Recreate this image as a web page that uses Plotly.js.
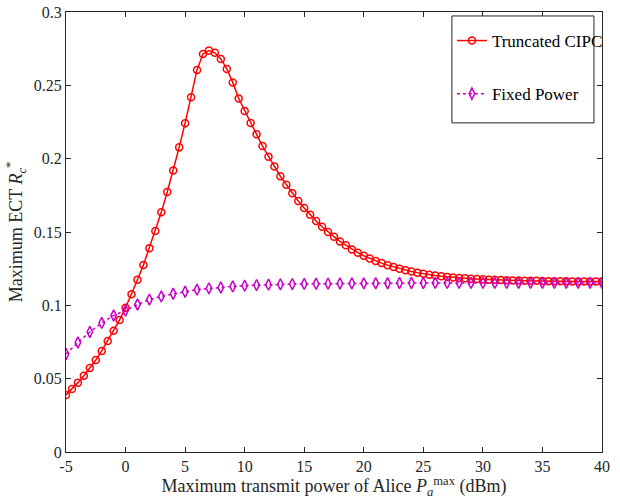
<!DOCTYPE html>
<html>
<head>
<meta charset="utf-8">
<script src="https://cdn.plot.ly/plotly-3.0.1.min.js"></script>
<style>html,body{margin:0;padding:0;background:#fff;}#chart{width:620px;height:499px;}</style>
</head>
<body>
<div id="chart"></div>
<script>
// Truncated CIPC: power grid every 0.5 dBm
const xCIPC = [-5,-4.5,-4,-3.5,-3,-2.5,-2,-1.5,-1,-0.5,0,0.5,1,1.5,2,2.5,3,3.5,4,4.5,5,5.5,6,6.5,7,7.5,8,8.5,9,9.5,10,10.5,11,11.5,12,12.5,13,13.5,14,14.5,15,15.5,16,16.5,17,17.5,18,18.5,19,19.5,20,20.5,21,21.5,22,22.5,23,23.5,24,24.5,25,25.5,26,26.5,27,27.5,28,28.5,29,29.5,30,30.5,31,31.5,32,32.5,33,33.5,34,34.5,35,35.5,36,36.5,37,37.5,38,38.5,39,39.5,40];
const yCIPC = [0.0389,0.0430,0.0473,0.0520,0.0573,0.0627,0.0689,0.0757,0.0827,0.0900,0.0984,0.1075,0.1175,0.1275,0.1390,0.1507,0.1634,0.1773,0.1920,0.2077,0.2242,0.2418,0.2605,0.2714,0.2737,0.2722,0.2680,0.2612,0.2520,0.2410,0.2325,0.2243,0.2166,0.2086,0.2013,0.1947,0.1880,0.1822,0.1765,0.1711,0.1664,0.1618,0.1575,0.1536,0.1500,0.1468,0.1436,0.1409,0.1381,0.1359,0.1338,0.1320,0.1302,0.1288,0.1274,0.1262,0.1250,0.1240,0.1231,0.1223,0.1215,0.1209,0.1203,0.1198,0.1194,0.1190,0.1187,0.1184,0.1181,0.1179,0.1177,0.1175,0.1174,0.1172,0.1171,0.1170,0.1169,0.1168,0.1167,0.1167,0.1166,0.1165,0.1165,0.1164,0.1164,0.1163,0.1163,0.1163,0.1162,0.1162,0.1162];
// Fixed Power: power grid every 1 dBm
const xFixed = [-5,-4,-3,-2,-1,0,1,2,3,4,5,6,7,8,9,10,11,12,13,14,15,16,17,18,19,20,21,22,23,24,25,26,27,28,29,30,31,32,33,34,35,36,37,38,39,40];
const yFixed = [0.0668,0.0747,0.0818,0.0880,0.0931,0.0965,0.1006,0.1039,0.1061,0.1079,0.1093,0.1107,0.1116,0.1122,0.1129,0.1134,0.1138,0.1141,0.1143,0.1145,0.1146,0.1147,0.1148,0.1149,0.1150,0.1150,0.1151,0.1151,0.1152,0.1152,0.1152,0.1153,0.1153,0.1153,0.1153,0.1153,0.1153,0.1153,0.1153,0.1153,0.1153,0.1153,0.1153,0.1153,0.1153,0.1153];
const xTicks = [-5,0,5,10,15,20,25,30,35,40];
const xTickText = ['-5','0','5','10','15','20','25','30','35','40'];
const yTicks = [0,0.05,0.1,0.15,0.2,0.25,0.3];
const yTickText = ['0','0.05','0.1','0.15','0.2','0.25','0.3'];
const names = ['Truncated CIPC','Fixed Power'];

const font = 'Liberation Serif, Times New Roman, serif';
const traces = [
  {x:xCIPC, y:yCIPC, name:names[0], type:'scatter', mode:'lines+markers', legendgroup:'a',
   line:{color:'#ff0000', width:1.5},
   marker:{symbol:'circle-open', size:7, color:'#ff0000', line:{width:1.5, color:'#ff0000'}}},
  {x:xFixed, y:yFixed, name:names[1], type:'scatter', mode:'lines+markers', legendgroup:'b',
   line:{color:'#c800c8', width:1.5, dash:'dot'},
   marker:{symbol:'diamond-tall-open', size:8, color:'#c800c8', line:{width:1.5, color:'#c800c8'}}}
];
const axisCommon = {showgrid:false, zeroline:false, showline:true, linecolor:'#262626', linewidth:1,
  mirror:'ticks', ticks:'inside', ticklen:5, tickcolor:'#262626', tickwidth:1,
  tickfont:{family:font, size:16, color:'#262626'}};
const layout = {
  width:620, height:499,
  margin:{l:66, r:18, t:12, b:47, autoexpand:false},
  paper_bgcolor:'#fff', plot_bgcolor:'#fff',
  font:{family:font, color:'#262626'},
  xaxis:Object.assign({}, axisCommon, {range:[-5,40], tickmode:'array', tickvals:xTicks, ticktext:xTickText,
    title:{text:'Maximum transmit power of Alice <i>P</i><sub><i>a</i></sub><sup>max</sup> (dBm)', font:{family:font, size:18, color:'#262626'}, standoff:3}}),
  yaxis:Object.assign({}, axisCommon, {range:[0,0.3], tickmode:'array', tickvals:yTicks, ticktext:yTickText,
    title:{text:'Maximum ECT <i>R</i><sub><i>c</i></sub><sup>*</sup>', font:{family:font, size:18, color:'#262626'}, standoff:6}}),
  showlegend:true,
  legend:{x:0.72, y:0.975, xanchor:'left', yanchor:'top', bgcolor:'rgba(0,0,0,0)', borderwidth:0,
    font:{family:font, size:17, color:'#000'}, tracegroupgap:28, traceorder:'grouped', itemwidth:30},
  shapes:[{type:'rect', xref:'paper', yref:'paper', x0:0.72, x1:0.985, y0:0.748, y1:0.991,
    line:{color:'#262626', width:1}, fillcolor:'#fff', layer:'above'}]
};
Plotly.newPlot('chart', traces, layout, {staticPlot:true});
</script>
</body>
</html>
